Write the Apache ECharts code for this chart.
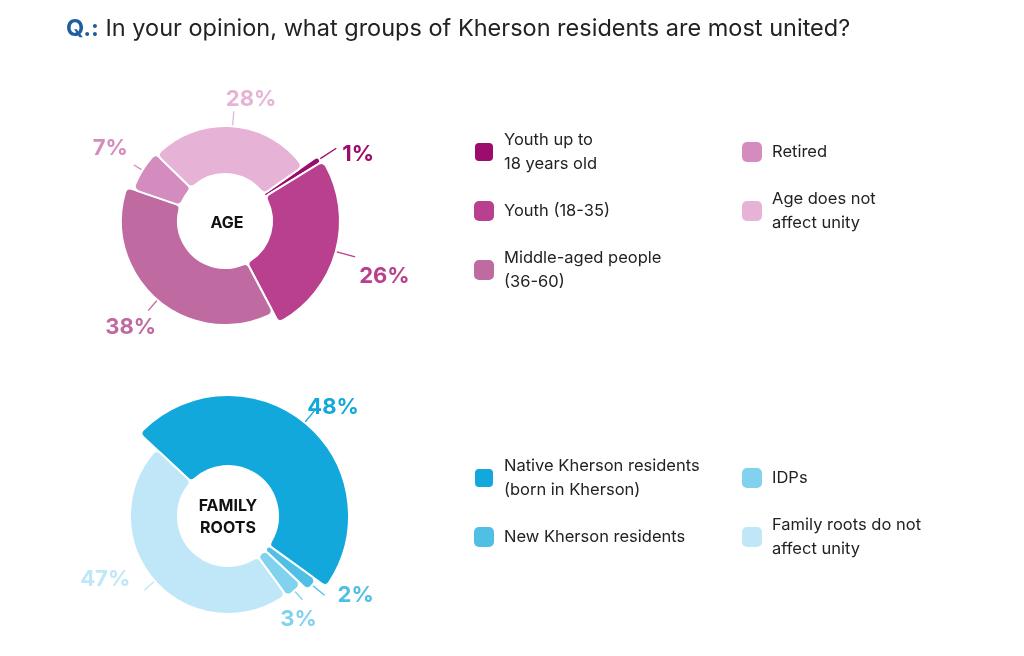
<!DOCTYPE html>
<html><head><meta charset="utf-8">
<script src="https://cdn.jsdelivr.net/npm/echarts@6/dist/echarts.min.js"></script>
<style>html,body{margin:0;padding:0;background:#fff}#chart{width:1024px;height:656px}</style>
</head><body><div id="chart"></div>
<script>
// ---- data ----
const questionPrefix = 'Q.:';
const questionText = 'In your opinion, what groups of Kherson residents are most united?';
const ageTitle = 'AGE';
const ageNames = ['Youth up to\n18 years old', 'Youth (18-35)', 'Middle-aged people\n(36-60)', 'Retired', 'Age does not\naffect unity'];
const ageValues = [1, 26, 38, 7, 28];
const rootsTitle = 'FAMILY\nROOTS';
const rootsNames = ['Native Kherson residents\n(born in Kherson)', 'New Kherson residents', 'IDPs', 'Family roots do not\naffect unity'];
const rootsValues = [48, 2, 3, 47];

// ---- styles ----
const FONT = 'Inter, "Noto Sans", sans-serif';
const ageColors = ['#9b0c6c', '#b9408e', '#c06aa2', '#d48cbe', '#e6b2d6'];
const rootsColors = ['#12a8dc', '#4fbfe5', '#80d2ee', '#bfe7f7'];
const ageCenter = [225, 221], rootsCenter = [228, 516];
const ageOuter = [113, 115, 104, 97, 95];
const rootsOuter = [121, 109, 100, 98];
const ageLineLen = [20, 20, 14, 10, 15];
const rootsLineLen = [15, 16, 12, 14];
const ageLabelShift = [[3, 6], [1, 20], [11, 17], [-3, -17], [-11, -12]];
const rootsLabelShift = [[-10, -4], [10, 0], [-25, 20], [-11, -11]];

function ringSeries(names, values, colors, outer, inner, center, startAngle, lineLen, shift) {
  return names.map((n, i) => ({
    type: 'pie', center: center, radius: [inner, outer[i]], startAngle: startAngle,
    clockwise: true, avoidLabelOverlap: false, silent: true, animation: false,
    itemStyle: { borderColor: '#fff', borderWidth: 2, borderRadius: 5 },
    labelLayout: { dx: shift[i][0], dy: shift[i][1] },
    label: { show: false }, labelLine: { show: false },
    emphasis: { disabled: true },
    data: names.map((m, j) => j === i ? {
      name: m, value: values[j],
      itemStyle: { color: colors[j] },
      label: { show: true, position: 'outside', formatter: '{c}%', color: colors[j],
               fontFamily: FONT, fontWeight: 700, fontSize: 22, distanceToLabelLine: 3 },
      labelLine: { show: true, length: lineLen[i], length2: 0,
                   lineStyle: { color: colors[j], width: 1.3 } }
    } : {
      name: m, value: values[j],
      itemStyle: { color: 'transparent', borderWidth: 0 },
      label: { show: false }, labelLine: { show: false }
    })
  }));
}

function legend(names, colors, left, top) {
  return {
    orient: 'vertical', left: left, top: top, padding: 0, itemGap: 23,
    itemWidth: 20, itemHeight: 20, icon: 'roundRect', selectedMode: false,
    textStyle: { fontFamily: FONT, fontSize: 16.5, lineHeight: 24, color: '#222', padding: [0, 0, 0, 5] },
    data: names.map((n, k) => ({ name: n, itemStyle: { color: colors[k] } }))
  };
}

const chart = echarts.init(document.getElementById('chart'), null, { renderer: 'canvas' });
function sub(names, colors, idx) { return { n: idx.map(i => names[i]), c: idx.map(i => colors[i]) }; }
const a1 = sub(ageNames, ageColors, [0, 1, 2]), a2 = sub(ageNames, ageColors, [3, 4]);
const r1 = sub(rootsNames, rootsColors, [0, 1]), r2 = sub(rootsNames, rootsColors, [2, 3]);

chart.setOption({
  backgroundColor: '#fff',
  title: {
    left: 66, top: 17, padding: 0,
    text: '{q|' + questionPrefix + '} ' + questionText,
    textStyle: {
      fontFamily: FONT, fontSize: 23.5, fontWeight: 400, color: '#222',
      rich: { q: { fontFamily: FONT, fontSize: 23.5, fontWeight: 700, color: '#1d5f9e' } }
    }
  },
  legend: [
    legend(a1.n, a1.c, 473, 128),
    legend(a2.n, a2.c, 742, 140),
    legend(r1.n, r1.c, 473, 454),
    legend(r2.n, r2.c, 742, 466)
  ],
  graphic: [
    { type: 'text', x: ageCenter[0] + 2, y: ageCenter[1] + 2, silent: true,
      style: { text: ageTitle, align: 'center', verticalAlign: 'middle', font: '700 16px ' + FONT, fill: '#111' } },
    { type: 'text', x: rootsCenter[0], y: rootsCenter[1] + 1, silent: true,
      style: { text: rootsTitle, align: 'center', verticalAlign: 'middle', font: '700 16px ' + FONT, lineHeight: 22, fill: '#111' } }
  ],
  series: [].concat(
    ringSeries(ageNames, ageValues, ageColors, ageOuter, 47, ageCenter, 35, ageLineLen, ageLabelShift),
    ringSeries(rootsNames, rootsValues, rootsColors, rootsOuter, 50, rootsCenter, 137, rootsLineLen, rootsLabelShift)
  )
});
</script></body></html>
